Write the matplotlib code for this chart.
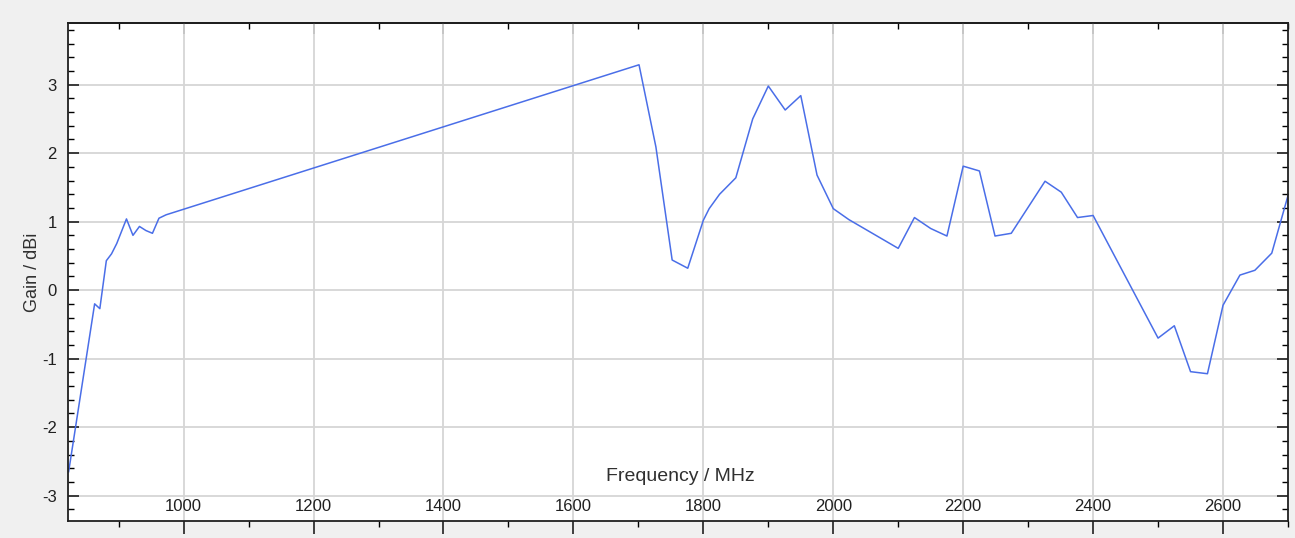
import matplotlib.pyplot as plt
from matplotlib.ticker import MultipleLocator

# gain curve
freq = [823, 863, 871, 881, 889, 897, 912, 922, 932, 942, 952, 962, 973,
        1701, 1727, 1752, 1776, 1800, 1809, 1825, 1850, 1876, 1900, 1926, 1950,
        1975, 2000, 2024, 2100, 2125, 2150, 2175, 2200, 2225, 2249, 2274,
        2326, 2351, 2376, 2400, 2500, 2525, 2550, 2576, 2600, 2626, 2649,
        2675, 2700]
gain = [-2.65, -0.20, -0.27, 0.43, 0.53, 0.68, 1.04, 0.80, 0.93, 0.87, 0.83, 1.05, 1.10,
        3.29, 2.09, 0.44, 0.32, 1.02, 1.19, 1.40, 1.64, 2.50, 2.98, 2.63, 2.84,
        1.68, 1.19, 1.03, 0.61, 1.06, 0.90, 0.79, 1.81, 1.74, 0.79, 0.83,
        1.59, 1.43, 1.06, 1.09, -0.70, -0.52, -1.19, -1.22, -0.22, 0.22, 0.29,
        0.54, 1.38]

xticks = [1000, 1200, 1400, 1600, 1800, 2000, 2200, 2400, 2600]
yticks = [-3, -2, -1, 0, 1, 2, 3]

plt.rcParams['font.family'] = ['Liberation Sans', 'DejaVu Sans']
plt.rcParams['axes.unicode_minus'] = False

fig = plt.figure(figsize=(12.95, 5.38), dpi=100, facecolor='#f0f0f0')
ax = fig.add_axes([68/1295, (538-521)/538, (1288-68)/1295, (521-23)/538])
ax.set_facecolor('white')

ax.plot(freq, gain, color='#4a6ee8', lw=1.1)

ax.set_xlim(822, 2700)
ax.set_ylim(-3.37, 3.90)
ax.set_xticks(xticks)
ax.set_yticks(yticks)
ax.xaxis.set_minor_locator(MultipleLocator(100))
ax.yaxis.set_minor_locator(MultipleLocator(0.2))
ax.grid(True, which='major', color='#d6d6d6', lw=1.3)
ax.set_axisbelow(True)

for s in ax.spines.values():
    s.set_linewidth(1.3)
    s.set_color('#202020')

ax.tick_params(axis='x', which='major', direction='out', length=9, width=1.2,
               pad=-25, labelsize=12, colors='#202020')
ax.tick_params(axis='x', which='minor', direction='out', length=4, width=1.0)
ax.tick_params(axis='y', which='major', direction='in', length=8, width=1.2,
               left=True, right=True, labelsize=12, pad=8, colors='#202020')
ax.tick_params(axis='y', which='minor', direction='in', length=4, width=1.0,
               left=True, right=True)

top = ax.secondary_xaxis('top')
top.set_xticks(xticks)
top.xaxis.set_minor_locator(MultipleLocator(100))
top.tick_params(which='major', direction='in', length=8, width=1.2, labeltop=False)
top.tick_params(which='minor', direction='in', length=4, width=1.0)
top.spines['top'].set_linewidth(1.3)

ax.set_xlabel('Frequency / MHz', fontsize=14, color='#303030')
ax.xaxis.set_label_coords(0.502, 0.106)
ax.set_ylabel('Gain / dBi', fontsize=13, color='#303030')
ax.yaxis.set_label_coords(-0.022, 0.5)

fig.savefig('out.png', dpi=100, facecolor=fig.get_facecolor())
